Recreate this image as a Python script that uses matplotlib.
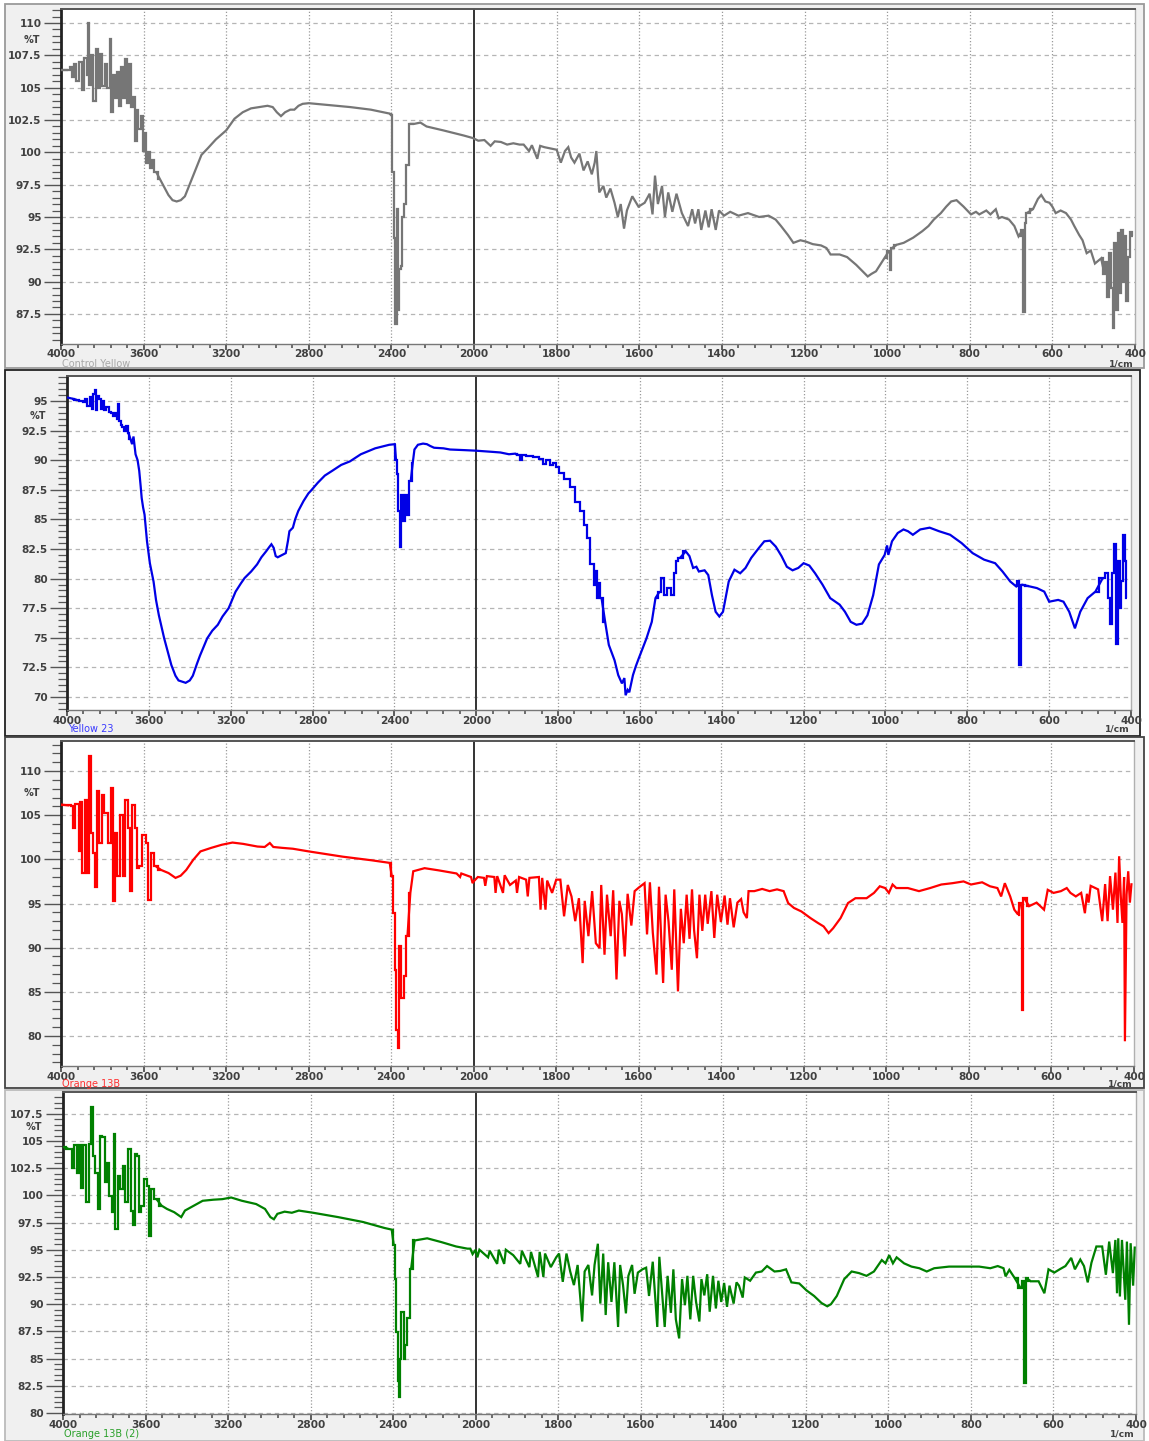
import numpy as np
import matplotlib
matplotlib.use("Agg")
import matplotlib.pyplot as plt
from matplotlib.patches import Rectangle
from matplotlib.ticker import FixedLocator, FuncFormatter

# ---------------- data ----------------
x_major_ticks = [4000, 3600, 3200, 2800, 2400, 2000, 1800, 1600, 1400, 1200, 1000, 800, 600, 400]
sample_names = ["Control Yellow", "Yellow 23", "Orange 13B", "Orange 13B (2)"]

wn_control = [4000, 3965, 3950, 3940, 3930, 3920, 3905, 3895, 3880, 3870, 3868, 3862, 3850, 3838, 3825, 3815,
              3805, 3795, 3780, 3770, 3760, 3752, 3745, 3735, 3725, 3715, 3705, 3695, 3685, 3675, 3665, 3655,
              3645, 3638, 3630, 3620, 3610, 3600, 3592, 3585, 3575, 3565, 3555, 3540, 3520, 3500, 3480, 3460,
              3440, 3420, 3400, 3370, 3340, 3320, 3290, 3250, 3200, 3160, 3120, 3080, 3040, 3000, 2975, 2955,
              2935, 2915, 2890, 2870, 2850, 2830, 2800, 2700, 2600, 2500, 2410, 2398, 2392, 2385, 2378, 2372,
              2366, 2360, 2350, 2345, 2335, 2322, 2312, 2290, 2260, 2230, 2150, 2050, 2005,
              1990, 1975, 1960, 1950, 1935, 1920, 1905, 1890, 1880, 1867, 1860, 1847, 1840, 1830, 1815, 1800,
              1790, 1780, 1772, 1765, 1757, 1745, 1735, 1725, 1715, 1708, 1704, 1700, 1697, 1687, 1680, 1670,
              1660, 1652, 1645, 1637, 1630, 1617, 1602, 1587, 1575, 1568, 1562, 1555, 1545, 1538, 1530, 1520,
              1510, 1497, 1482, 1472, 1465, 1457, 1450, 1440, 1432, 1425, 1415, 1407, 1395, 1380, 1360, 1337,
              1310, 1287, 1270, 1257, 1240, 1227, 1210, 1197, 1180, 1160, 1147, 1137, 1115, 1097, 1075, 1047,
              1038, 1027, 1007, 995, 992, 988, 977, 960, 937, 915, 900, 887, 870, 857, 845, 832, 815, 797, 785,
              777, 760, 750, 737, 730, 722, 705, 692, 682, 672, 669, 666, 662, 647, 635, 627, 617, 607, 600,
              592, 580, 567, 555, 547, 535, 527, 517, 507, 497, 482, 474, 470, 465, 460, 455, 452, 448, 444,
              440, 436, 432, 428, 424, 420, 415, 410, 405]
t_control = [106.4, 106.4, 106.6, 105.8, 106.8, 105.5, 107.0, 104.8, 107.3, 106.0, 110.0, 105.2, 107.5, 104.0, 108.0, 105.0,
             107.6, 105.1, 106.8, 105.0, 108.8, 103.1, 106.0, 104.2, 106.2, 103.6, 106.6, 104.2, 107.2, 103.8, 106.8, 103.5,
             104.3, 100.9, 103.3, 101.8, 102.8, 100.1, 101.5, 99.2, 100.0, 98.8, 99.4, 98.5, 97.9, 97.3, 96.7, 96.3,
             96.2, 96.3, 96.6, 97.8, 99.0, 99.8, 100.3, 101.0, 101.7, 102.6, 103.1, 103.4, 103.5, 103.6, 103.5, 103.1,
             102.8, 103.1, 103.3, 103.3, 103.6, 103.75, 103.8, 103.65, 103.5, 103.3, 103.0, 102.9, 98.5, 93.4, 86.7, 95.6,
             87.8, 91.0, 91.2, 95.0, 96.0, 99.0, 102.2, 102.2, 102.3, 102.0, 101.7, 101.3, 101.1,
             100.9, 100.95, 100.5, 100.85, 100.8, 100.6, 100.7, 100.6, 100.6, 100.1, 100.55, 99.5, 100.5, 100.4, 100.3, 100.2,
             99.2, 100.1, 100.4, 99.6, 99.2, 99.9, 98.6, 99.3, 98.3, 99.2, 100.1, 98.2, 96.9, 97.4, 96.5, 97.2,
             96.1, 95.0, 96.0, 94.1, 95.5, 96.6, 95.8, 96.1, 96.8, 95.2, 98.2, 96.0, 97.4, 95.0, 96.9, 95.4,
             96.8, 95.3, 94.3, 95.6, 94.5, 95.6, 94.0, 95.5, 94.2, 95.6, 94.0, 95.5, 95.1, 95.4, 95.1, 95.3,
             95.0, 95.1, 94.8, 94.3, 93.6, 93.0, 93.2, 93.1, 92.9, 92.8, 92.6, 92.1, 92.1, 91.9, 91.3, 90.4,
             90.6, 90.8, 91.8, 92.4, 90.9, 92.6, 92.85, 93.0, 93.4, 93.9, 94.3, 94.8, 95.3, 95.8, 96.2, 96.3, 95.8, 95.2, 95.4,
             95.2, 95.5, 95.2, 95.6, 94.9, 95.0, 94.8, 94.3, 93.5, 94.0, 87.65, 94.5, 95.3, 95.6, 96.4, 96.7, 96.2, 96.1, 95.8,
             95.3, 95.5, 95.3, 94.8, 94.3, 93.6, 93.2, 92.2, 92.4, 91.4, 91.8, 90.6, 91.5, 88.8, 92.2, 89.5, 86.4, 93.0, 87.8,
             93.75, 89.1, 94.0, 90.0, 93.5, 88.5, 91.9, 93.8, 93.5]

wn_yellow23 = [4000, 3975, 3953, 3930, 3915, 3905, 3895, 3885, 3875, 3868, 3860, 3855, 3848, 3840, 3832, 3822,
               3812, 3804, 3790, 3780, 3769, 3760, 3750, 3747, 3742, 3735, 3726, 3715, 3708, 3700, 3690, 3682,
               3675, 3665, 3655, 3647, 3640, 3635, 3628, 3621, 3609, 3595, 3577, 3565, 3551, 3525, 3490, 3470,
               3455, 3420, 3400, 3385, 3365, 3350, 3315, 3290, 3263, 3240, 3210, 3176, 3150, 3132, 3100, 3071,
               3050, 3027, 3010, 3001, 2990, 2980, 2970, 2948, 2931, 2920, 2913, 2896, 2885, 2870, 2844, 2820,
               2809, 2774, 2740, 2704, 2660, 2617, 2564, 2494, 2425, 2398, 2392, 2386, 2377, 2369, 2362, 2351,
               2342, 2334, 2320, 2310, 2302, 2285, 2260, 2241, 2225, 2206, 2160, 2128, 2060, 2000,
               1960, 1941, 1920, 1905, 1898, 1890, 1885, 1870, 1854, 1840, 1832, 1825, 1815, 1810, 1802, 1795,
               1777, 1763, 1754, 1740, 1731, 1727, 1717, 1708, 1706, 1704, 1700, 1694, 1685, 1676, 1662, 1653,
               1644, 1638, 1635, 1630, 1626, 1617, 1610, 1603, 1584, 1571, 1562, 1552, 1543, 1539, 1529, 1520,
               1515, 1511, 1502, 1488, 1479, 1470, 1462, 1456, 1442, 1433, 1424, 1415, 1406, 1397, 1383, 1369,
               1355, 1342, 1328, 1309, 1296, 1282, 1268, 1254, 1241, 1227, 1213, 1200, 1186, 1172, 1154, 1135,
               1112, 1099, 1085, 1071, 1057, 1044, 1030, 1016, 1002, 996, 993, 984, 970, 956, 945, 933, 915,
               892, 869, 842, 814, 787, 759, 732, 714, 695, 681, 675, 671, 668, 649, 630, 612, 600, 578, 565,
               551, 537, 524, 506, 487, 469, 460, 453, 449, 444, 439, 435, 430, 426, 421, 417, 413, 410]
t_yellow23 = [95.3, 95.2, 95.1, 95.0, 94.9, 95.2, 94.6, 95.3, 94.3, 95.6, 95.9, 94.2, 95.4, 95.2, 94.3, 95.0,
              94.2, 94.5, 94.1, 94.0, 93.75, 94.0, 93.5, 94.75, 93.3, 93.0, 92.8, 92.5, 92.9, 92.3, 91.8, 91.35,
              92.0, 90.5, 90.0, 89.1, 87.8, 86.8, 86.0, 85.4, 83.15, 81.3, 79.75, 78.2, 76.9, 74.95, 72.7, 71.8,
              71.4, 71.2, 71.4, 71.8, 72.8, 73.5, 74.95, 75.6, 76.1, 76.8, 77.5, 78.9, 79.6, 80.05, 80.6, 81.2,
              81.8, 82.3, 82.7, 82.9, 82.6, 81.9, 81.8, 82.0, 82.15, 83.2, 84.0, 84.3, 85.0, 85.7, 86.55, 87.2,
              87.4, 88.1, 88.7, 89.1, 89.6, 89.9, 90.5, 91.0, 91.3, 91.35, 90.0, 88.8, 85.7, 82.7, 87.1, 84.85,
              87.1, 85.4, 88.25, 89.8, 90.9, 91.3, 91.4, 91.35, 91.2, 91.05, 91.0, 90.9, 90.85, 90.8,
              90.7, 90.65, 90.5, 90.55, 90.45, 90.0, 90.4, 90.35, 90.3, 90.1, 89.7, 90.0, 89.6, 89.8, 89.4, 88.95,
              88.4, 87.7, 86.5, 85.7, 84.55, 83.4, 81.2, 79.5, 80.6, 78.35, 79.6, 78.4, 76.35, 74.4, 73.1, 71.85,
              71.15, 71.6, 70.15, 70.6, 70.4, 71.85, 72.6, 73.25, 74.95, 76.35, 78.35, 78.9, 80.05, 78.6, 79.2, 78.6,
              80.5, 81.45, 81.75, 82.3, 81.9, 80.9, 81.0, 80.6, 80.7, 80.3, 78.6, 77.2, 76.8, 77.2, 79.75, 80.75,
              80.45, 80.9, 81.75, 82.6, 83.15, 83.2, 82.7, 81.9, 81.0, 80.7, 80.9, 81.3, 81.1, 80.45, 79.5, 78.35,
              77.8, 77.2, 76.35, 76.1, 76.2, 76.9, 78.6, 81.2, 82.0, 82.8, 82.0, 83.15, 83.85, 84.15, 84.0, 83.7, 84.15,
              84.3, 84.0, 83.7, 83.0, 82.15, 81.6, 81.3, 80.6, 79.75, 79.35, 79.8, 72.7, 79.5, 79.35, 79.2, 78.9, 78.05, 78.2, 78.05,
              77.2, 75.8, 77.2, 78.35, 78.9, 80.05, 80.5, 78.35, 76.2, 80.5, 82.9, 74.5, 81.45, 77.5, 79.8, 83.7, 81.45, 78.35]

wn_orange13b = [4000, 3960, 3945, 3936, 3925, 3916, 3910, 3902, 3890, 3880, 3872, 3859, 3850, 3838, 3829, 3824,
                3807, 3798, 3781, 3764, 3752, 3745, 3735, 3721, 3703, 3693, 3683, 3669, 3659, 3648, 3635, 3626,
                3617, 3597, 3583, 3569, 3557, 3540, 3515, 3479, 3445, 3420, 3393, 3359, 3324, 3272, 3221, 3169,
                3117, 3048, 3013, 2988, 2971, 2928, 2876, 2800, 2634, 2497, 2407, 2397, 2388, 2379, 2372, 2366,
                2362, 2359, 2350, 2342, 2334, 2321, 2307, 2293, 2238, 2169, 2083, 2066, 2060, 2013, 2005, 2000,
                1990, 1975, 1972, 1968, 1950, 1947, 1943, 1929, 1925, 1912, 1898, 1895, 1890, 1873, 1869, 1865,
                1842, 1838, 1834, 1826, 1822, 1810, 1800,
                1790, 1781, 1772, 1763, 1754, 1745, 1736, 1731, 1722, 1713, 1704, 1695, 1691, 1683, 1677, 1668,
                1662, 1654, 1647, 1641, 1634, 1627, 1618, 1610, 1600, 1586, 1580, 1573, 1566, 1557, 1551, 1541,
                1535, 1528, 1520, 1514, 1505, 1498, 1491, 1484, 1477, 1471, 1466, 1459, 1453, 1446, 1439, 1433,
                1424, 1417, 1410, 1401, 1392, 1385, 1379, 1370, 1361, 1352, 1346, 1338, 1334, 1320, 1301, 1283,
                1265, 1249, 1238, 1224, 1206, 1184, 1166, 1152, 1140, 1129, 1111, 1093, 1075, 1048, 1030, 1016,
                1003, 994, 985, 976, 948, 921, 894, 867, 840, 813, 795, 768, 749, 731, 722, 713, 700, 690, 681,
                675, 670, 666, 654, 636, 618, 609, 595, 577, 563, 554, 541, 528, 519, 514, 510, 505, 487, 477,
                470, 464, 458, 451, 445, 440, 436, 432, 428, 424, 422, 418, 414, 410, 406]
t_orange13b = [106.2, 106.1, 106.0, 103.5, 106.3, 106.3, 100.9, 106.5, 98.45, 106.75, 98.4, 111.65, 103.0, 100.7, 96.9, 107.7,
               101.85, 107.3, 105.25, 101.9, 108.1, 95.25, 103.0, 98.1, 105.05, 98.1, 106.75, 103.5, 96.4, 106.2, 103.5, 99.0,
               99.2, 102.8, 101.8, 95.45, 100.7, 99.2, 98.8, 98.45, 97.9, 98.15, 98.8, 99.95, 100.9, 101.3, 101.65, 101.9,
               101.75, 101.45, 101.4, 101.85, 101.4, 101.3, 101.2, 100.9, 100.3, 99.9, 99.6, 98.1, 93.9, 87.5, 80.7, 78.6,
               84.0, 90.15, 84.3, 84.3, 86.75, 91.3, 96.2, 98.65, 99.0, 98.75, 98.4, 98.0, 98.4, 98.0, 97.3, 97.5,
               98.0, 97.9, 97.0, 98.1, 98.0, 96.2, 98.1, 96.2, 98.2, 97.1, 97.6, 96.2, 98.0, 97.7, 95.8, 97.9,
               98.0, 94.3, 97.9, 94.3, 97.6, 96.2, 97.7,
               97.7, 93.55, 97.1, 95.8, 93.0, 95.6, 88.25, 95.3, 91.3, 96.4, 90.5, 89.95, 97.1, 89.2, 96.0, 91.3,
               96.5, 86.4, 95.3, 93.8, 89.0, 96.1, 92.5, 96.4, 96.8, 97.3, 91.5, 97.4, 91.7, 86.95, 96.9, 86.0,
               96.0, 93.0, 87.5, 96.6, 85.05, 94.4, 90.5, 96.0, 91.0, 96.6, 92.0, 88.8, 96.0, 91.9, 96.0, 92.7,
               96.4, 91.1, 96.0, 92.9, 95.9, 92.6, 95.6, 92.3, 95.1, 95.5, 94.0, 93.35, 96.4, 96.4, 96.65, 96.4,
               96.6, 96.4, 95.05, 94.5, 94.1, 93.35, 92.8, 92.4, 91.65, 92.2, 93.35, 95.05, 95.6, 95.6, 96.2, 96.95,
               96.75, 96.2, 97.15, 96.75, 96.75, 96.4, 96.75, 97.15, 97.3, 97.5, 97.15, 97.4, 96.95, 96.75, 95.8, 97.3, 95.8, 94.3, 93.75,
               95.1, 82.95, 95.6, 94.7, 95.1, 94.3, 96.55, 96.2, 96.4, 96.75, 96.2, 95.8, 96.2, 93.9, 96.1, 95.1, 97.0, 96.6, 93.0,
               97.2, 93.0, 98.1, 94.3, 98.5, 92.8, 100.35, 95.8, 92.8, 98.0, 79.4, 96.0, 98.65, 95.1, 97.3]

wn_orange13b_2 = [4000, 3975, 3962, 3953, 3940, 3927, 3915, 3907, 3897, 3879, 3872, 3858, 3848, 3838, 3827, 3817,
                  3803, 3793, 3781, 3769, 3758, 3751, 3741, 3729, 3717, 3703, 3693, 3677, 3665, 3655, 3646, 3636,
                  3625, 3615, 3599, 3589, 3577, 3567, 3547, 3522, 3496, 3461, 3427, 3409, 3366, 3323, 3271, 3228,
                  3185, 3133, 3064, 3021, 2995, 2978, 2961, 2926, 2891, 2857, 2788, 2667, 2546, 2442, 2407, 2397,
                  2387, 2382, 2375, 2368, 2364, 2361, 2352, 2347, 2339, 2328, 2313, 2296, 2235, 2166, 2095, 2040,
                  2026, 2015, 2000,
                  1996, 1991, 1970, 1966, 1948, 1944, 1931, 1927, 1909, 1892, 1888, 1870, 1866, 1849, 1845, 1836,
                  1832, 1818, 1805,
                  1798, 1789, 1780, 1771, 1762, 1753, 1742, 1736, 1727, 1718, 1712, 1704, 1698, 1691, 1685, 1679,
                  1671, 1664, 1655, 1650, 1643, 1636, 1630, 1621, 1615, 1607, 1596, 1587, 1580, 1571, 1560, 1555,
                  1549, 1542, 1535, 1527, 1521, 1515, 1507, 1500, 1493, 1487, 1480, 1473, 1466, 1458, 1453, 1446,
                  1439, 1433, 1425, 1418, 1412, 1405, 1398, 1391, 1385, 1375, 1368, 1362, 1353, 1348, 1335, 1321,
                  1307, 1294, 1276, 1262, 1248, 1235, 1216, 1198, 1180, 1162, 1148, 1139, 1125, 1107, 1089, 1071,
                  1053, 1035, 1016, 1007, 998, 989, 980, 962, 944, 925, 907, 889, 853, 816, 780, 753, 735, 721,
                  716, 707, 694, 680, 673, 669, 666, 655, 636, 622, 612, 598, 585, 571, 557, 548, 535, 526, 517,
                  508, 496, 482, 473, 465, 456, 450, 446, 443, 439, 434, 426, 422, 417, 413, 407, 403]
t_orange13b_2 = [104.45, 104.3, 104.25, 102.55, 104.6, 102.1, 104.6, 100.7, 104.6, 99.35, 104.7, 108.15, 103.6, 102.1, 98.75, 105.45,
                 105.4, 101.2, 103.0, 99.95, 98.45, 105.6, 96.9, 101.8, 100.6, 102.7, 99.35, 104.25, 98.6, 97.25, 103.8, 103.6,
                 98.45, 99.05, 101.5, 100.9, 96.3, 100.6, 99.65, 99.05, 98.75, 98.45, 98.0, 98.6, 99.05, 99.5, 99.6, 99.65,
                 99.8, 99.5, 99.2, 98.75, 98.0, 97.8, 98.3, 98.5, 98.4, 98.6, 98.4, 98.0, 97.55, 97.0, 96.85, 95.4,
                 92.35, 87.45, 82.9, 81.5, 85.0, 89.3, 89.3, 85.0, 86.25, 88.7, 93.25, 95.85, 96.05, 95.7, 95.3, 95.1,
                 95.1, 94.6, 95.0,
                 94.3, 95.0, 94.3, 94.9, 93.7, 95.0, 93.7, 95.0, 94.5, 93.7, 94.9, 93.4, 94.8, 92.5, 94.8, 92.5,
                 94.65, 93.4, 94.3,
                 94.65, 92.05, 94.65, 93.0, 91.75, 93.6, 88.4, 93.0, 93.6, 90.8, 93.6, 95.55, 90.05, 94.65, 89.0, 93.85,
                 90.2, 93.85, 87.9, 93.6, 91.75, 89.15, 92.6, 93.6, 90.95, 92.9, 93.2, 93.35, 90.75, 93.9, 87.9, 94.35,
                 91.4, 87.9, 92.6, 89.2, 93.2, 88.6, 86.85, 92.3, 89.9, 92.6, 88.6, 92.6, 90.2, 88.4, 92.3, 90.8,
                 92.75, 89.3, 92.6, 89.6, 92.15, 90.2, 91.95, 89.75, 91.7, 90.05, 92.0, 91.7, 90.6, 92.45, 92.15, 92.9,
                 93.0, 93.5, 93.0, 93.05, 93.2, 92.0, 91.9, 91.25, 90.75, 90.1, 89.8, 90.0, 90.75, 92.3, 93.0, 92.85,
                 92.6, 93.0, 94.05, 93.75, 94.5, 93.75, 94.3, 93.75, 93.45, 93.3, 93.0, 93.3, 93.45, 93.45, 93.45, 93.3, 93.5, 93.3,
                 92.55, 93.15, 92.4, 91.5, 92.1, 82.75, 92.4, 92.1, 92.1, 91.0, 93.2, 92.9, 93.2, 93.5, 94.25, 93.2, 94.1, 93.5, 92.0,
                 93.8, 95.3, 95.3, 92.7, 95.75, 92.85, 95.9, 91.0, 96.05, 90.7, 95.9, 90.4, 95.75, 88.1, 95.6, 91.7, 95.3]

# ---------------- layout / styling ----------------
W, H = 1149, 1441
fig = plt.figure(figsize=(W / 100, H / 100), dpi=100)
fig.patch.set_facecolor("white")

# wavenumber windows where the trace is drawn instrument-style as vertical steps
panels = [
    dict(wn=wn_control, t=t_control, color="#767676", name_color="#a8a8a8",
         steps=[(3965, 3540), (2400, 2310), (1000, 985), (680, 660), (480, 400)],
         ax_px=(61, 1135, 8.8, 343.7), ylim=(85.2, 111.1), ymaj=2.5, ymin=0.5, yfirst=87.5, ylast=110,
         pct_y=108.7, bg=(5, 4, 1144, 368), edge="#9a9a9a", name_dy=-20),
    dict(wn=wn_yellow23, t=t_yellow23, color="#0000e6", name_color="#3a3aff",
         steps=[(3960, 3700), (2395, 2320), (1900, 1690), (1560, 1500), (680, 665), (470, 405)],
         ax_px=(67, 1131, 375.5, 710.4), ylim=(68.87, 97.15), ymaj=2.5, ymin=0.5, yfirst=70, ylast=95,
         pct_y=93.75, bg=(5, 370, 1140, 736), edge="#222222", name_dy=-18.5),
    dict(wn=wn_orange13b, t=t_orange13b, color="#ff0000", name_color="#ff3030",
         steps=[(3960, 3540), (2400, 2310), (680, 660)],
         ax_px=(61, 1134, 741, 1066), ylim=(76.6, 113.4), ymaj=5, ymin=1, yfirst=80, ylast=110,
         pct_y=107.5, bg=(5, 737, 1144, 1088), edge="#444444", name_dy=-18),
    dict(wn=wn_orange13b_2, t=t_orange13b_2, color="#008000", name_color="#2aa02a",
         steps=[(3980, 3540), (2400, 2310), (680, 660)],
         ax_px=(63, 1136, 1092, 1414), ylim=(79.9, 109.5), ymaj=2.5, ymin=0.5, yfirst=80, ylast=107.5,
         pct_y=106.3, bg=(5, 1090, 1144, 1441), edge="#bbbbbb", name_dy=-20),
]


def fwd(x):
    x = np.asarray(x, dtype=float)
    return np.where(x > 2000, 2000 + (x - 2000) / 2.0, x)


def inv(u):
    u = np.asarray(u, dtype=float)
    return np.where(u > 2000, 2000 + (u - 2000) * 2.0, u)


def draw_trace(ax, wn, t, step_windows, color):
    wn = np.asarray(wn, dtype=float)
    t = np.asarray(t, dtype=float)
    stepped = np.zeros(len(wn), dtype=bool)
    for hi, lo in step_windows:
        stepped |= (wn <= hi) & (wn >= lo)
    start = 0
    n = len(wn)
    for k in range(1, n + 1):
        if k == n or stepped[k] != stepped[start]:
            a = max(start - 1, 0)
            b = min(k + 1, n)
            ds = "steps-mid" if stepped[start] else "default"
            ax.plot(wn[a:b], t[a:b], color=color, lw=1.6, drawstyle=ds,
                    solid_joinstyle="miter", solid_capstyle="butt", zorder=3)
            start = k


minor_x = [v for v in range(4000, 2000, -80) if v not in x_major_ticks] + \
          [v for v in range(2000, 399, -40) if v not in x_major_ticks]

TICK_FS = 7.6

for i, p in enumerate(panels):
    bx0, by0, bx1, by1 = p["bg"]
    fig.patches.append(Rectangle((bx0 / W, 1 - by1 / H), (bx1 - bx0) / W, (by1 - by0) / H,
                                 transform=fig.transFigure, facecolor="#f0f0f0",
                                 edgecolor=p["edge"], linewidth=1.3, zorder=-10))
    x0, x1, yt, yb = p["ax_px"]
    ax = fig.add_axes([x0 / W, 1 - yb / H, (x1 - x0) / W, (yb - yt) / H])
    ax.set_zorder(5)
    ax.set_facecolor("white")
    ax.set_xscale("function", functions=(fwd, inv))
    ax.set_xlim(4000, 400)
    ax.set_ylim(*p["ylim"])

    draw_trace(ax, p["wn"], p["t"], p["steps"], p["color"])

    # ticks
    ax.xaxis.set_major_locator(FixedLocator(x_major_ticks))
    ax.xaxis.set_minor_locator(FixedLocator(minor_x))
    ax.xaxis.set_major_formatter(FuncFormatter(lambda v, pos: f"{v:g}"))
    yt_major = np.arange(p["yfirst"], p["ylast"] + 1e-6, p["ymaj"])
    yt_minor = np.arange(np.ceil(p["ylim"][0] / p["ymin"]) * p["ymin"], p["ylim"][1], p["ymin"])
    ax.yaxis.set_major_locator(FixedLocator(yt_major))
    ax.yaxis.set_minor_locator(FixedLocator(yt_minor))
    ax.yaxis.set_major_formatter(FuncFormatter(lambda v, pos: f"{v:g}"))

    ax.tick_params(axis="y", which="major", direction="out", length=12, width=1.0, color="#555555",
                   pad=2, labelsize=TICK_FS, labelcolor="#404040")
    ax.tick_params(axis="y", which="minor", direction="out", length=6.5, width=0.9, color="#555555")
    ax.tick_params(axis="x", which="major", direction="out", length=4, width=1.2, color="#444444",
                   pad=0, labelsize=TICK_FS, labelcolor="#404040")
    ax.tick_params(axis="x", which="minor", direction="out", length=3, width=1.2, color="#555555")
    for lab in ax.get_xticklabels() + ax.get_yticklabels():
        lab.set_fontweight("bold")

    # grid
    for v in x_major_ticks[1:-1]:
        if v == 2000:
            ax.axvline(v, color="#333333", lw=1.4, zorder=2)
        else:
            ax.axvline(v, color="#9a9a9a", lw=0.9, ls=(0, (1, 1.6)), zorder=1)
    for v in yt_major:
        ax.axhline(v, color="#b5b5b5", lw=0.9, ls=(0, (3.5, 3)), zorder=1)

    # spines
    ax.spines["left"].set_color("#222222")
    ax.spines["left"].set_linewidth(2.0)
    ax.spines["bottom"].set_color("#777777")
    ax.spines["bottom"].set_linewidth(1.0)
    ax.spines["top"].set_color("#555555")
    ax.spines["top"].set_linewidth(1.4)
    ax.spines["right"].set_color("#b0b0b0")
    ax.spines["right"].set_linewidth(1.0)

    # %T label
    ax.annotate("%T", xy=(0, p["pct_y"]), xycoords=("axes fraction", "data"),
                xytext=(-21, 0), textcoords="offset pixels", ha="right", va="center",
                family="DejaVu Sans", size=7.0, color="#404040", weight="bold")

    # sample name & unit
    ax.annotate(sample_names[i], xy=(0, 0), xycoords="axes fraction", xytext=(1, p["name_dy"]),
                textcoords="offset pixels", ha="left", va="center",
                family="DejaVu Sans", size=7.0, color=p["name_color"])
    ax.annotate("1/cm", xy=(1, 0), xycoords="axes fraction", xytext=(-1, p["name_dy"]),
                textcoords="offset pixels", ha="right", va="center",
                family="DejaVu Sans", size=6.6, color="#404040", weight="bold")

fig.savefig("out.png", dpi=100, facecolor="white")
